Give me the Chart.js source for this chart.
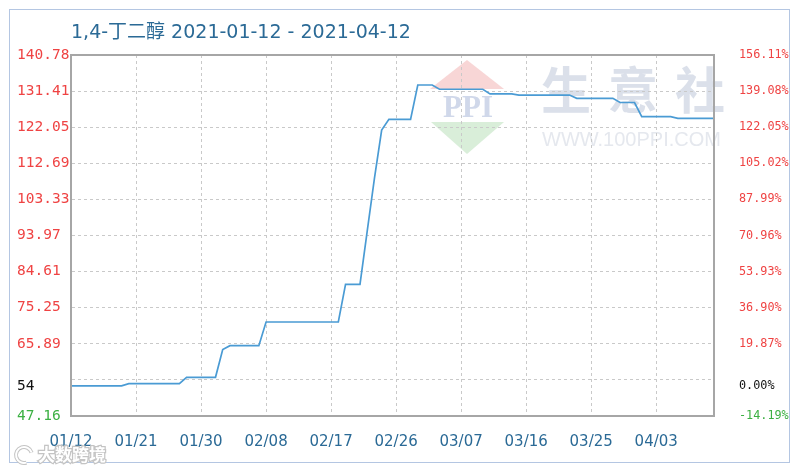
<!DOCTYPE html>
<html><head><meta charset="utf-8">
<script src="https://cdn.jsdelivr.net/npm/chart.js@4.4.1/dist/chart.umd.min.js"></script>
<style>html,body{margin:0;padding:0;background:#fff;}#wrap{width:799px;height:469px;}</style>
</head><body><div id="wrap"><canvas id="c" width="799" height="469"></canvas></div>
<script>
const titleText = '1,4-丁二醇 2021-01-12 - 2021-04-12';

const dates = [
 '01/12','01/13','01/14','01/15','01/16','01/17','01/18','01/19','01/20','01/21',
 '01/22','01/23','01/24','01/25','01/26','01/27','01/28','01/29','01/30','01/31',
 '02/01','02/02','02/03','02/04','02/05','02/06','02/07','02/08','02/09','02/10',
 '02/11','02/12','02/13','02/14','02/15','02/16','02/17','02/18','02/19','02/20',
 '02/21','02/22','02/23','02/24','02/25','02/26','02/27','02/28','03/01','03/02',
 '03/03','03/04','03/05','03/06','03/07','03/08','03/09','03/10','03/11','03/12',
 '03/13','03/14','03/15','03/16','03/17','03/18','03/19','03/20','03/21','03/22',
 '03/23','03/24','03/25','03/26','03/27','03/28','03/29','03/30','03/31','04/01',
 '04/02','04/03','04/04','04/05','04/06','04/07','04/08','04/09','04/10','04/11'
];

const prices = [
 54.96,54.96,54.96,54.96,54.96,54.96,54.96,54.96,55.54,55.54,
 55.54,55.54,55.54,55.54,55.54,55.54,57.20,57.20,57.20,57.20,
 57.20,64.40,65.40,65.40,65.40,65.40,65.40,71.54,71.54,71.54,
 71.54,71.54,71.54,71.54,71.54,71.54,71.54,71.54,81.30,81.30,
 81.30,95.10,108.80,121.30,124.10,124.10,124.10,124.10,133.00,133.00,
 133.00,131.90,131.90,131.90,131.90,131.90,131.90,131.90,130.70,130.70,
 130.70,130.70,130.40,130.40,130.40,130.40,130.40,130.40,130.40,130.40,
 129.55,129.55,129.55,129.55,129.55,129.55,128.46,128.46,128.46,124.78,
 124.78,124.78,124.78,124.78,124.37,124.37,124.37,124.37,124.37,124.37
];

const tickValues  = [140.78,131.41,122.05,112.69,103.33,93.97,84.61,75.25,65.89,56.53,54.96,47.16];
const leftLabels  = ['140.78','131.41','122.05','112.69','103.33','93.97','84.61','75.25','65.89','','54','47.16'];
const rightLabels = ['156.11%','139.08%','122.05%','105.02%','87.99%','70.96%','53.93%','36.90%','19.87%','','0.00%','-14.19%'];
const xTickEvery = 9;

const RED = '#ef4343', GREEN = '#3cb043', BLACK = '#111111', BLUE_TXT = '#2b6a96';
function labelColor(i){ if (i === tickValues.length-1) return GREEN; if (i === tickValues.length-2) return BLACK; return RED; }

const decor = {
  id: 'decor',
  beforeDraw(chart){
    const ctx = chart.ctx;
    ctx.save();
    ctx.fillStyle = '#fff'; ctx.fillRect(0,0,chart.width,chart.height);
    ctx.strokeStyle = '#b4c6e2'; ctx.lineWidth = 1;
    ctx.strokeRect(9.5, 9.5, 780, 453);
    // title
    ctx.fillStyle = BLUE_TXT;
    ctx.font = '19px "DejaVu Sans", "Noto Sans CJK SC", sans-serif';
    ctx.textBaseline = 'middle'; ctx.textAlign = 'left';
    ctx.fillText(titleText, 71, 33);
    // watermark
    ctx.fillStyle = '#f8d6d6';
    ctx.beginPath(); ctx.moveTo(467,60); ctx.lineTo(504,89); ctx.lineTo(430,89); ctx.closePath(); ctx.fill();
    ctx.fillStyle = '#d9eed9';
    ctx.beginPath(); ctx.moveTo(431,122); ctx.lineTo(504,122); ctx.lineTo(467,154); ctx.closePath(); ctx.fill();
    ctx.fillStyle = '#d0d8ea';
    ctx.font = 'bold 31px "Liberation Serif", serif';
    ctx.textAlign = 'center'; ctx.textBaseline = 'alphabetic';
    ctx.fillText('PPI', 468, 117);
    ctx.fillStyle = '#dbe0ea';
    ctx.font = 'bold 50px "Noto Sans CJK SC", sans-serif';
    ctx.textBaseline = 'middle';
    ctx.fillText('生', 566, 90);
    ctx.fillText('意', 633, 90);
    ctx.fillText('社', 700, 90);
    ctx.fillStyle = '#e5e8ee';
    ctx.font = '20px "Liberation Sans", sans-serif';
    ctx.textAlign = 'left';
    ctx.fillText('WWW.100PPI.COM', 542, 140);
    ctx.restore();
  },
  afterDraw(chart){
    const ctx = chart.ctx, a = chart.chartArea;
    ctx.save();
    ctx.strokeStyle = '#a6a6a6'; ctx.lineWidth = 2;
    ctx.strokeRect(a.left, a.top, a.right - a.left, a.bottom - a.top);
    // bottom-left stamp
    ctx.font = 'bold 17px "Noto Sans CJK SC", sans-serif';
    ctx.textBaseline = 'middle'; ctx.textAlign = 'left';
    ctx.lineWidth = 2.5; ctx.strokeStyle = '#c4c4c4'; ctx.fillStyle = '#ffffff';
    ctx.strokeText('大数跨境', 38, 455); ctx.fillText('大数跨境', 38, 455);
    ctx.beginPath(); ctx.arc(24, 455, 8, 0.4*Math.PI, 1.9*Math.PI); ctx.lineWidth = 4; ctx.stroke();
    ctx.strokeStyle = '#fff'; ctx.lineWidth = 2; ctx.stroke();
    ctx.restore();
  }
};

new Chart(document.getElementById('c'), {
  type: 'line',
  data: {
    labels: dates,
    datasets: [{
      data: prices, yAxisID: 'y',
      borderColor: '#4a9bd4', borderWidth: 1.7,
      pointRadius: 0, tension: 0, fill: false
    }]
  },
  options: {
    responsive: false, animation: false, devicePixelRatio: 1,
    layout: { padding: { left: 17, right: 0, top: 55, bottom: 0 } },
    plugins: { legend: { display: false }, tooltip: { enabled: false }, title: { display: false } },
    scales: {
      x: {
        type: 'category',
        afterBuildTicks(scale){ scale.ticks = scale.ticks.filter(t => t.value % xTickEvery === 0); },
        afterFit(scale){ scale.height = 53; },
        grid: { color: '#c9c9c9', lineWidth: 1, drawTicks: false },
        border: { display: true, color: '#a6a6a6', width: 2, dash: [3,3] },
        ticks: { autoSkip: false, maxRotation: 0, padding: 17, color: BLUE_TXT,
                 font: { family: '"DejaVu Sans", sans-serif', size: 15 } }
      },
      y: {
        type: 'linear', position: 'left', min: 47.16, max: 140.78,
        afterBuildTicks(scale){ scale.ticks = tickValues.map(v => ({ value: v })); },
        afterFit(scale){ scale.width = 54; },
        grid: { drawTicks: false, lineWidth: 1,
                color: ctx => (ctx.index === tickValues.length-2 ? 'rgba(0,0,0,0)' : '#c9c9c9') },
        border: { display: true, color: '#a6a6a6', width: 2, dash: [3,3] },
        ticks: { autoSkip: false, crossAlign: 'far', padding: 0,
                 callback: (v, i) => leftLabels[i],
                 color: ctx => labelColor(ctx.index),
                 font: { family: '"DejaVu Sans Mono", monospace', size: 14.5 } }
      },
      y2: {
        type: 'linear', position: 'right', min: 47.16, max: 140.78,
        afterBuildTicks(scale){ scale.ticks = tickValues.map(v => ({ value: v })); },
        afterFit(scale){ scale.width = 85; },
        grid: { display: false, drawTicks: false },
        border: { display: true, color: '#a6a6a6', width: 2 },
        ticks: { autoSkip: false, crossAlign: 'near', padding: 25,
                 callback: (v, i) => rightLabels[i],
                 color: ctx => labelColor(ctx.index),
                 font: { family: '"DejaVu Sans Mono", monospace', size: 11.8 } }
      }
    }
  },
  plugins: [decor]
});
</script>
</body></html>
